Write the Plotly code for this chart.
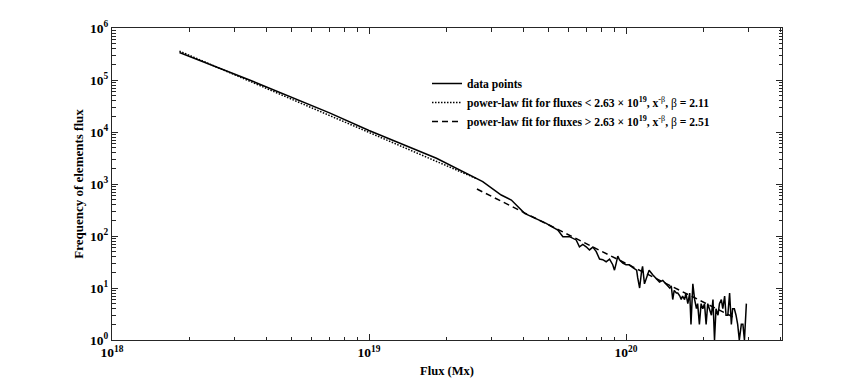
import plotly.graph_objects as go

# ---- data ----
flux = [
    1.83e18, 3.43e18, 7.02e18, 1.00e19, 1.83e19, 2.57e19,
    2.77e19, 3.27e19, 3.58e19, 4.03e19, 4.89e19, 5.43e19, 5.68e19,
    6.03e19, 6.21e19, 6.40e19, 6.59e19, 6.79e19, 7.00e19, 7.21e19, 7.43e19, 7.66e19, 7.89e19,
    8.12e19, 8.37e19, 8.63e19, 8.88e19, 9.02e19, 9.16e19, 9.29e19, 9.43e19, 9.72e19,
    1.00e20, 1.03e20, 1.06e20, 1.10e20, 1.11e20, 1.13e20, 1.15e20, 1.16e20, 1.18e20, 1.20e20,
    1.23e20, 1.27e20, 1.31e20, 1.35e20, 1.39e20, 1.43e20, 1.45e20, 1.48e20, 1.50e20, 1.52e20,
    1.54e20, 1.57e20, 1.59e20, 1.62e20, 1.64e20, 1.66e20, 1.69e20, 1.71e20, 1.74e20, 1.77e20,
    1.79e20, 1.82e20, 1.85e20, 1.88e20, 1.90e20, 1.93e20, 1.96e20, 1.99e20, 2.02e20, 2.05e20,
    2.08e20, 2.11e20, 2.15e20, 2.18e20, 2.21e20, 2.24e20, 2.28e20, 2.31e20, 2.35e20, 2.38e20,
    2.42e20, 2.45e20, 2.49e20, 2.53e20, 2.57e20, 2.60e20, 2.64e20, 2.68e20, 2.72e20, 2.76e20,
    2.81e20, 2.85e20, 2.89e20, 2.94e20,
]
counts = [
    3.38e5, 1.00e5, 2.33e4, 1.07e4, 3.12e3, 1.33e3,
    1110, 614, 492, 273, 175, 130, 97,
    97, 90, 84, 62, 69, 62, 54, 61, 50, 36,
    35, 32, 36, 28, 22, 30, 41, 35, 30,
    28, 28, 25, 22, 16, 10, 21, 26, 12, 16,
    22, 18, 15, 13, 14, 12, 11, 10, 11, 6,
    9, 8, 8, 7, 6, 7, 6, 8, 5, 8,
    2, 12, 6, 4, 5, 2, 5, 4, 5, 2,
    5, 4, 3, 6, 1, 4, 3, 5, 6, 4,
    7, 3, 3, 8, 2, 4, 4, 3, 2, 1,
    2, 2, 1, 5,
]

fit_low_x = [1.83e18, 2.63e19]
fit_low_y = [3.6e5, 1.26e3]
fit_high_x = [2.63e19, 2.60e20]
fit_high_y = [800, 2.8]

x_tickvals = [1e18, 1e19, 1e20]
x_ticktext = ["10<sup>18</sup>", "10<sup>19</sup>", "10<sup>20</sup>"]
y_tickvals = [1, 10, 100, 1e3, 1e4, 1e5, 1e6]
y_ticktext = ["10<sup>0</sup>", "10<sup>1</sup>", "10<sup>2</sup>", "10<sup>3</sup>",
              "10<sup>4</sup>", "10<sup>5</sup>", "10<sup>6</sup>"]

name_data = "<b>data points</b>"
name_low = ("<b>power-law fit for fluxes &lt; 2.63 × 10<sup>19</sup>, x<sup>-</sup></b>"
            "<sup>β</sup><b>, </b>β<b> = 2.11</b>")
name_high = ("<b>power-law fit for fluxes &gt; 2.63 × 10<sup>19</sup>, x<sup>-</sup></b>"
             "<sup>β</sup><b>, </b>β<b> = 2.51</b>")

SERIF = "Liberation Serif"
AX = "#262626"

fig = go.Figure()
fig.add_trace(go.Scatter(x=flux, y=counts, mode="lines", name=name_data,
                         line=dict(color="black", width=1.5)))
fig.add_trace(go.Scatter(x=fit_low_x, y=fit_low_y, mode="lines", name=name_low,
                         line=dict(color="black", width=1.5, dash="1.5px,1.5px")))
fig.add_trace(go.Scatter(x=fit_high_x, y=fit_high_y, mode="lines", name=name_high,
                         line=dict(color="black", width=1.5, dash="6px,4px")))

axis_common = dict(
    type="log", showline=True, linecolor=AX, linewidth=1, mirror="allticks",
    ticks="inside", ticklen=6, tickcolor=AX, tickwidth=1,
    showgrid=False, zeroline=False, automargin=False,
    tickfont=dict(family=SERIF, size=13.5, color="black", weight="bold"),
    minor=dict(ticks="inside", ticklen=3.5, tickcolor=AX, dtick="D1", showgrid=False),
)

fig.update_xaxes(
    **axis_common,
    range=[18, 18 + 670 / 257],
    tickvals=x_tickvals, ticktext=x_ticktext,
    title=dict(text="<b>Flux (Mx)</b>", font=dict(family=SERIF, size=12.5, color="black"),
               standoff=7),
)
fig.update_yaxes(
    **axis_common,
    range=[0, 6],
    tickvals=y_tickvals, ticktext=y_ticktext,
    title=dict(text="<b>Frequency of elements flux</b>",
               font=dict(family=SERIF, size=13, color="black"), standoff=3),
)

fig.update_layout(
    width=864, height=382,
    margin=dict(l=112, r=82, t=28, b=42, autoexpand=False),
    paper_bgcolor="white", plot_bgcolor="white",
    font=dict(family=SERIF, color="black"),
    showlegend=True,
    legend=dict(x=(427 - 112) / 670, y=(340 - 69) / 312, xanchor="left", yanchor="top",
                bgcolor="rgba(0,0,0,0)", borderwidth=0, itemwidth=30,
                font=dict(family=SERIF, size=11.6, color="black")),
)

fig.write_html("out.html", config={"displayModeBar": False},
               post_script="document.body.style.margin='0px';document.body.style.padding='0px';")
